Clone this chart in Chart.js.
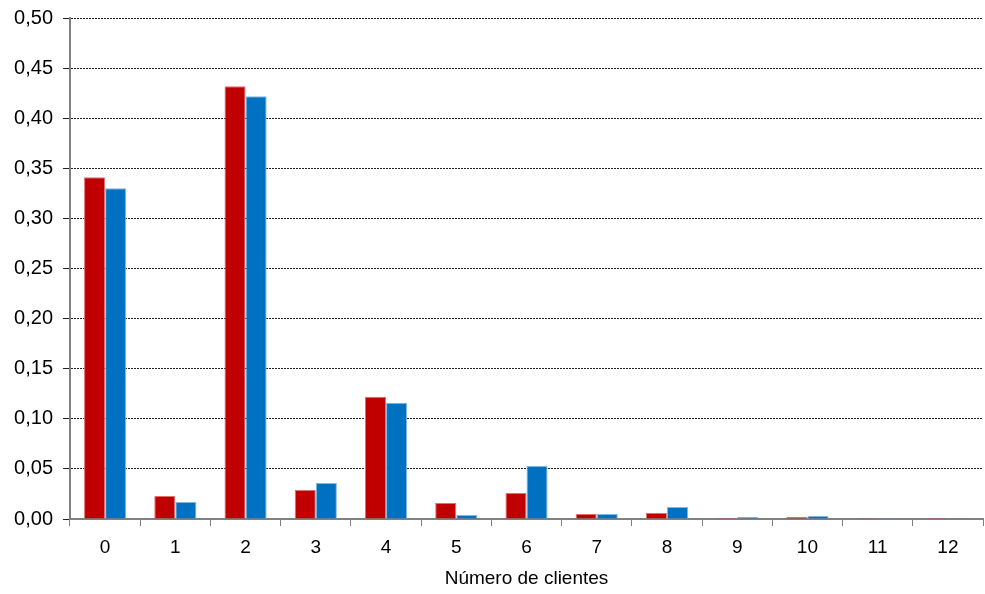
<!DOCTYPE html>
<html>
<head>
<meta charset="utf-8">
<script src="https://cdn.jsdelivr.net/npm/chart.js@4"></script>
<style>
  html, body { margin: 0; padding: 0; background: #fff; }
  #wrap { width: 985px; height: 594px; }
</style>
</head>
<body>
<div id="wrap"><canvas id="chart"></canvas></div>
<script>
// Data
const categories = ["0", "1", "2", "3", "4", "5", "6", "7", "8", "9", "10", "11", "12"];
const seriesRed = [0.341, 0.023, 0.432, 0.029, 0.122, 0.016, 0.026, 0.005, 0.006, 0.001, 0.002, 0.001, 0.001];
const seriesBlue = [0.330, 0.017, 0.422, 0.036, 0.116, 0.004, 0.053, 0.005, 0.012, 0.002, 0.003, 0.001, 0.001];
const xTitle = "Número de clientes";

const fontFace = "'Liberation Sans', Arial, sans-serif";

const ctx = document.getElementById("chart").getContext("2d");
new Chart(ctx, {
    type: "bar",
    data: {
        labels: categories,
        datasets: [
            {
                data: seriesRed,
                backgroundColor: "#C00000",
                borderColor: "#E07070",
                borderWidth: 1,
                borderSkipped: "bottom"
            },
            {
                data: seriesBlue,
                backgroundColor: "#0070C0",
                borderColor: "#7FB8E6",
                borderWidth: 1,
                borderSkipped: "bottom"
            }
        ]
    },
    options: {
        responsive: true,
        maintainAspectRatio: false,
        animation: false,
        layout: { padding: { top: 18, right: 2, left: 0, bottom: 4 } },
        datasets: { bar: { categoryPercentage: 0.6, barPercentage: 1.0 } },
        plugins: {
            legend: { display: false },
            tooltip: { enabled: false }
        },
        scales: {
            x: {
                grid: {
                    drawOnChartArea: false,
                    drawTicks: true,
                    tickLength: 7,
                    color: "#808080"
                },
                border: { color: "#808080", width: 2 },
                ticks: {
                    color: "#000",
                    font: { family: fontFace, size: 19 },
                    padding: 10
                },
                title: {
                    display: true,
                    text: xTitle,
                    color: "#000",
                    font: { family: fontFace, size: 19 },
                    padding: { top: 4, bottom: 0 }
                },
                afterFit: function(scale) { scale.height = 71; }
            },
            y: {
                min: 0,
                max: 0.5,
                grid: {
                    color: "#222",
                    lineWidth: 1,
                    tickLength: 7
                },
                border: { color: "#808080", width: 2, dash: [2, 1] },
                ticks: {
                    stepSize: 0.05,
                    color: "#000",
                    font: { family: fontFace, size: 20 },
                    padding: 10,
                    callback: function(v) { return v.toFixed(2).replace(".", ","); }
                },
                afterFit: function(scale) {
                    scale.width = 70;
                    scale.paddingTop = 0;
                    scale.paddingBottom = 0;
                }
            }
        }
    }
});
</script>
</body>
</html>
